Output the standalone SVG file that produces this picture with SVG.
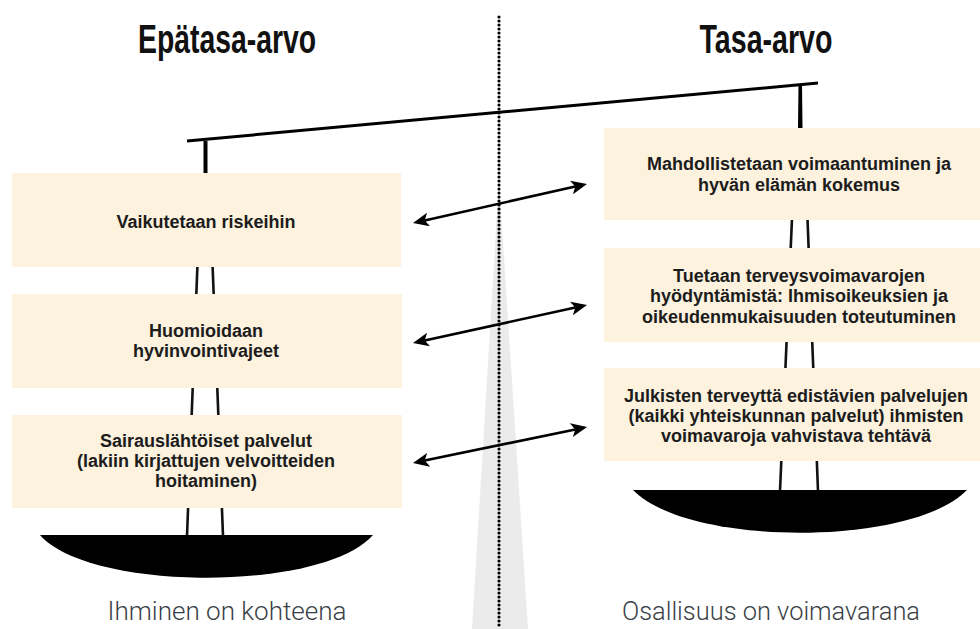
<svg xmlns="http://www.w3.org/2000/svg" width="980" height="629" viewBox="0 0 980 629">
<style>
.box{fill:#fcf2de}
.bt{font-family:"Liberation Sans",Arial,sans-serif;font-weight:bold;font-size:18px;fill:#1c1c1c;text-anchor:middle}
.title{font-family:"Liberation Sans",Arial,sans-serif;font-weight:bold;font-size:40px;fill:#111;text-anchor:middle}
.foot{font-family:Roboto,"Liberation Sans",sans-serif;font-weight:300;font-size:26px;fill:#3a3f47;text-anchor:middle}
.leg{stroke:#111;stroke-width:2.6;fill:none}
.pan{fill:#000}
.arrow{stroke:#000;stroke-width:2.6;fill:none;marker-start:url(#ah);marker-end:url(#ah)}
</style>
<defs>
<marker id="ah" markerUnits="userSpaceOnUse" markerWidth="16" markerHeight="14" refX="4" refY="7" orient="auto-start-reverse" viewBox="0 0 16 14">
<path d="M0,0 L16,7 L0,14 L4,7 z" fill="#000"/>
</marker>
</defs>
<rect width="980" height="629" fill="#fff"/>
<g id="center-divider">
<polygon points="499,180 472,629 528,629" fill="#ebebeb"/>
<line x1="499" y1="17" x2="499" y2="629" stroke="#000" stroke-width="3.2" stroke-linecap="round" stroke-dasharray="0 4"/>
</g>
<g id="titles">
<text class="title" x="227" y="53" textLength="178" lengthAdjust="spacingAndGlyphs">Epätasa-arvo</text>
<text class="title" x="766" y="53" textLength="133" lengthAdjust="spacingAndGlyphs">Tasa-arvo</text>
</g>
<g id="scale-frame">
<line x1="187" y1="141" x2="818" y2="83" stroke="#000" stroke-width="3"/>
<polygon points="203.5,141 207.5,141 207.5,173 203.5,173" fill="#000"/>
<polygon points="798.5,84 802,84 802.5,128 798,128" fill="#000"/>
<line class="leg" x1="201" y1="173" x2="187" y2="536"/>
<line class="leg" x1="209" y1="173" x2="223" y2="536"/>
<line class="leg" x1="796" y1="128" x2="780" y2="491"/>
<line class="leg" x1="804" y1="128" x2="818" y2="491"/>
</g>
<g id="left-pan">
<path class="pan" d="M40,535 L373,535 C323,592 90,592 40,535 Z"/>
</g>
<g id="right-pan">
<path class="pan" d="M633,490 L967,490 C912,547 688,547 633,490 Z"/>
</g>
<g id="left-box-1">
<rect class="box" x="12" y="173" width="389" height="94"/>
<text class="bt" x="206" y="228">Vaikutetaan riskeihin</text>
</g>
<g id="left-box-2">
<rect class="box" x="12" y="294" width="390" height="94"/>
<text class="bt" x="206" y="337">Huomioidaan</text>
<text class="bt" x="206" y="357">hyvinvointivajeet</text>
</g>
<g id="left-box-3">
<rect class="box" x="12" y="415" width="390" height="93"/>
<text class="bt" x="206" y="447">Sairauslähtöiset palvelut</text>
<text class="bt" x="206" y="467">(lakiin kirjattujen velvoitteiden</text>
<text class="bt" x="206" y="487">hoitaminen)</text>
</g>
<g id="right-box-1">
<rect class="box" x="604" y="128" width="376" height="92"/>
<text class="bt" x="799" y="170">Mahdollistetaan voimaantuminen ja</text>
<text class="bt" x="799" y="191">hyvän elämän kokemus</text>
</g>
<g id="right-box-2">
<rect class="box" x="604" y="248" width="376" height="94"/>
<text class="bt" x="799" y="282">Tuetaan terveysvoimavarojen</text>
<text class="bt" x="799" y="302">hyödyntämistä: Ihmisoikeuksien ja</text>
<text class="bt" x="799" y="323">oikeudenmukaisuuden toteutuminen</text>
</g>
<g id="right-box-3">
<rect class="box" x="604" y="368" width="376" height="93"/>
<text class="bt" x="796" y="402">Julkisten terveyttä edistävien palvelujen</text>
<text class="bt" x="796" y="422">(kaikki yhteiskunnan palvelut) ihmisten</text>
<text class="bt" x="796" y="442">voimavaroja vahvistava tehtävä</text>
</g>
<g id="connectors">
<line class="arrow" x1="424.7" y1="220.4" x2="575.3" y2="186.6"/>
<line class="arrow" x1="424.7" y1="340.4" x2="575.3" y2="307.6"/>
<line class="arrow" x1="424.7" y1="460.6" x2="575.3" y2="429.4"/>
</g>
<g id="footers">
<text class="foot" x="227" y="620" textLength="239" lengthAdjust="spacingAndGlyphs">Ihminen on kohteena</text>
<text class="foot" x="771" y="620" textLength="298" lengthAdjust="spacingAndGlyphs">Osallisuus on voimavarana</text>
</g>
</svg>
